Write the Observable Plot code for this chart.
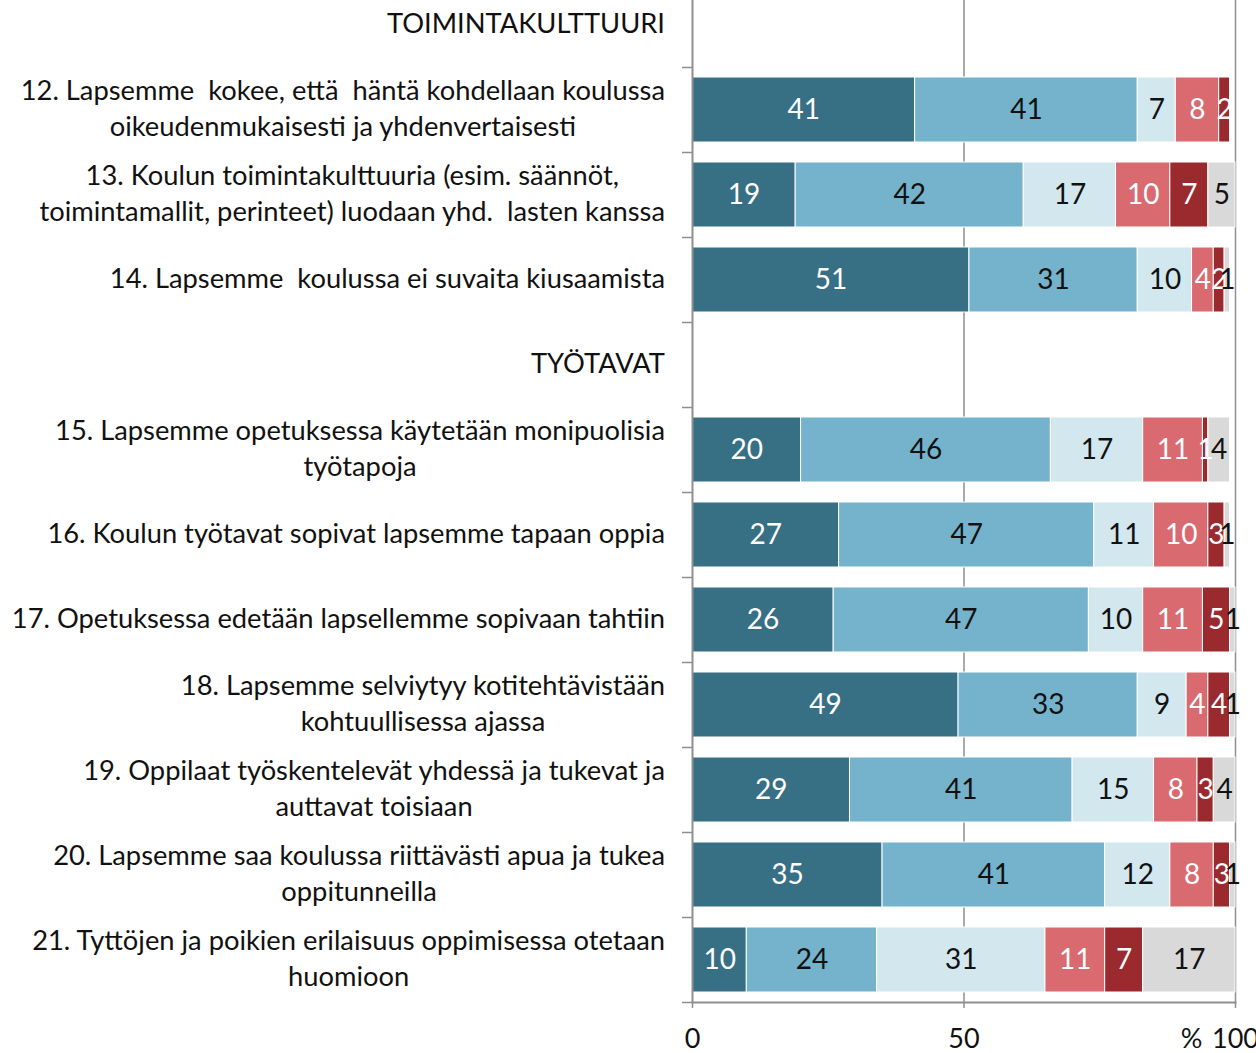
<!DOCTYPE html>
<html><head><meta charset="utf-8">
<script src="https://cdn.jsdelivr.net/npm/d3@7"></script>
<script src="https://cdn.jsdelivr.net/npm/@observablehq/plot@0.6"></script>
<style>
body{margin:0;background:#fff;overflow:hidden}
#chart svg{display:block;margin-top:-18px;overflow:hidden}
#chart text{white-space:pre}
</style></head><body><div id="chart"></div>
<script>
const categories = [
  "TOIMINTAKULTTUURI",
  "12. Lapsemme  kokee, että  häntä kohdellaan koulussa\noikeudenmukaisesti ja yhdenvertaisesti",
  "13. Koulun toimintakulttuuria (esim. säännöt,\ntoimintamallit, perinteet) luodaan yhd.  lasten kanssa",
  "14. Lapsemme  koulussa ei suvaita kiusaamista",
  "TYÖTAVAT",
  "15. Lapsemme opetuksessa käytetään monipuolisia\ntyötapoja",
  "16. Koulun työtavat sopivat lapsemme tapaan oppia",
  "17. Opetuksessa edetään lapsellemme sopivaan tahtiin",
  "18. Lapsemme selviytyy kotitehtävistään\nkohtuullisessa ajassa",
  "19. Oppilaat työskentelevät yhdessä ja tukevat ja\nauttavat toisiaan",
  "20. Lapsemme saa koulussa riittävästi apua ja tukea\noppitunneilla",
  "21. Tyttöjen ja poikien erilaisuus oppimisessa otetaan\nhuomioon"
];
const seriesNames = [
  "Täysin samaa mieltä",
  "Jokseenkin samaa mieltä",
  "Ei samaa eikä eri mieltä",
  "Jokseenkin eri mieltä",
  "Täysin eri mieltä",
  "En osaa sanoa"
];
const seriesColors = ["#376f85", "#74b3cb", "#d2e7ee", "#d96a6f", "#9b2a2f", "#d9d9d9"];
const whiteLabelSeries = ["Täysin samaa mieltä", "Jokseenkin eri mieltä", "Täysin eri mieltä"];

const taysinSamaa     = [null, 41, 19, 51, null, 20, 27, 26, 49, 29, 35, 10];
const jokseenkinSamaa = [null, 41, 42, 31, null, 46, 47, 47, 33, 41, 41, 24];
const eiSamaaEikaEri  = [null,  7, 17, 10, null, 17, 11, 10,  9, 15, 12, 31];
const jokseenkinEri   = [null,  8, 10,  4, null, 11, 10, 11,  4,  8,  8, 11];
const taysinEri       = [null,  2,  7,  2, null,  1,  3,  5,  4,  3,  3,  7];
const enOsaaSanoa     = [null,  0,  5,  1, null,  4,  1,  1,  1,  4,  1, 17];

const xTicks = [0, 50, 100];
const xUnit = "%";

const seriesValues = [taysinSamaa, jokseenkinSamaa, eiSamaaEikaEri, jokseenkinEri, taysinEri, enOsaaSanoa];
const data = [];
categories.forEach((c, i) => seriesNames.forEach((s, j) => {
  const v = seriesValues[j][i];
  if (v) data.push({label: c, series: s, value: v});
}));
const white = new Set(whiteLabelSeries);
const stack = (o) => Plot.stackX({x: "value", y: "label", z: "series", order: seriesNames, ...o});
const axisColor = "#8f8f8f";

const chart = Plot.plot({
  width: 1256, height: 1071,
  marginLeft: 692, marginRight: 21, marginTop: 0, marginBottom: 51,
  style: {fontFamily: "Lato, sans-serif", background: "#fff", color: "#111"},
  x: {domain: [0, 100], axis: null},
  y: {domain: categories, paddingInner: 0.235, paddingOuter: 0.1175, axis: null},
  color: {domain: seriesNames, range: seriesColors},
  marks: [
    Plot.ruleX([50, 100], {stroke: axisColor, strokeWidth: 1.5}),
    Plot.barX(data, stack({fill: "series", stroke: "#fff", strokeWidth: 1})),
    Plot.text(data, stack({text: d => white.has(d.series) ? String(d.value) : "", fill: "#fff", fontSize: 28})),
    Plot.text(data, stack({text: d => white.has(d.series) ? "" : String(d.value), fill: "#111", fontSize: 28})),
    Plot.ruleX([0], {stroke: axisColor, strokeWidth: 2}),
    Plot.frame({anchor: "bottom", stroke: axisColor, strokeWidth: 2}),
    Plot.axisY({tickSize: 10, tickFormat: () => "", label: null, dy: 42.5, stroke: axisColor, strokeWidth: 1.5}),
    Plot.axisX({ticks: xTicks, tickSize: 6, tickPadding: 20, fontSize: 27, label: null, stroke: axisColor, strokeWidth: 1.5}),
    Plot.text([xUnit], {x: () => 100, text: d => d, frameAnchor: "bottom", lineAnchor: "top", dy: 26, dx: -44, fontSize: 27, fill: "#111"}),
    Plot.text(categories, {y: d => d, text: d => d, frameAnchor: "left", textAnchor: "middle", lineHeight: 1.33, fontSize: 27.3, dy: -3.5, fill: "#111"})
  ]
});
document.getElementById("chart").append(chart);
const svgRect = chart.getBoundingClientRect();
const flatLabels = new Set(categories.map(c => c.replace("\n", "")));
chart.querySelectorAll("text").forEach(t => {
  if (!flatLabels.has(t.textContent)) return;
  const r = t.getBoundingClientRect();
  const shift = 665 - (r.right - svgRect.left);
  t.setAttribute("transform", (t.getAttribute("transform") || "") + ` translate(${shift},0)`);
});
</script></body></html>
